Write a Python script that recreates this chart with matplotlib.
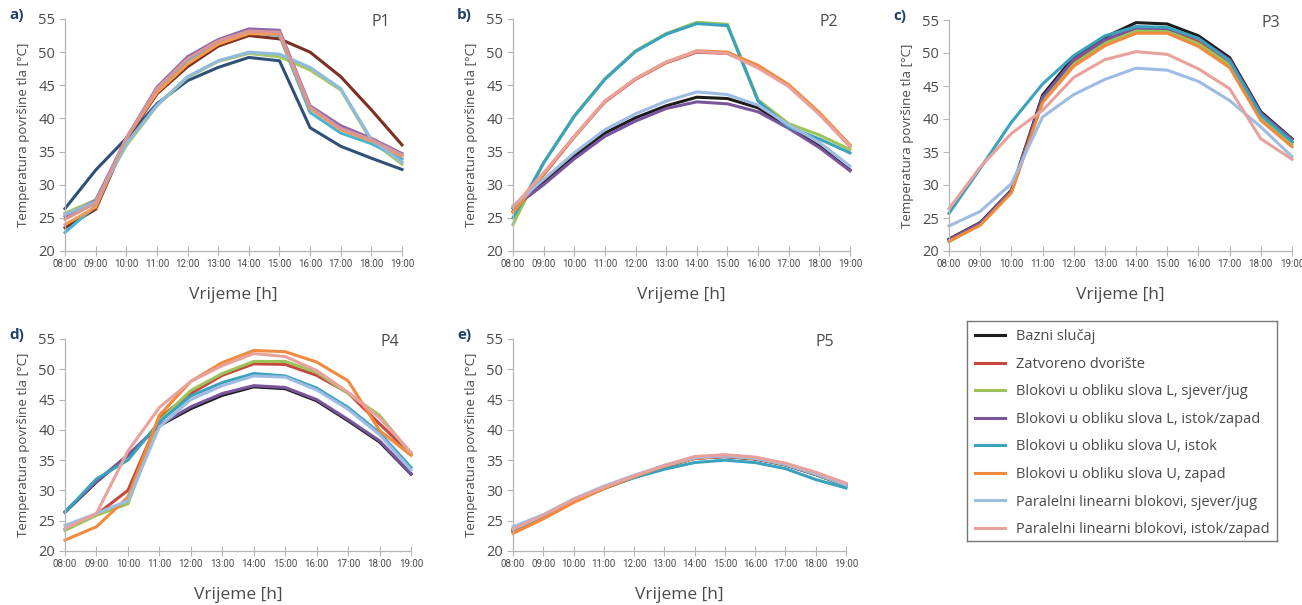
import matplotlib
matplotlib.use('Agg')
import matplotlib.pyplot as plt

plt.rcParams['font.family'] = ['Open Sans', 'DejaVu Sans']

# Vremena mjerenja
hours = ['08:00', '09:00', '10:00', '11:00', '12:00', '13:00',
         '14:00', '15:00', '16:00', '17:00', '18:00', '19:00']

series_names = ['Bazni slučaj', 'Zatvoreno dvorište',
                'Blokovi u obliku slova L, sjever/jug',
                'Blokovi u obliku slova L, istok/zapad',
                'Blokovi u obliku slova U, istok',
                'Blokovi u obliku slova U, zapad',
                'Paralelni linearni blokovi, sjever/jug',
                'Paralelni linearni blokovi, istok/zapad']

colors = ['#1c1c1c', '#c8473d', '#9cc35a', '#7a559c',
          '#3aa2bd', '#f08a3c', '#9dbbe3', '#e9a19c']
# P1 u originalu ima drugu paletu
colors_p1 = ['#2e5079', '#7d2f22', '#a6c965', '#8e6aad',
             '#46b4d3', '#f59a4e', '#8fb9dd', '#d99594']

# P1
p1 = [
    [26.4, 32.2, 37.0, 42.2, 45.7, 47.7, 49.2, 48.7, 38.6, 35.8, 34.0, 32.3],
    [23.5, 26.3, 36.8, 43.7, 47.8, 50.9, 52.5, 52.0, 50.0, 46.3, 41.3, 36.0],
    [25.7, 27.7, 35.9, 41.9, 46.2, 48.6, 49.8, 49.3, 47.3, 44.3, 36.6, 33.1],
    [25.2, 27.6, 37.0, 44.7, 49.3, 51.9, 53.5, 53.3, 41.9, 38.9, 37.0, 34.7],
    [22.8, 26.8, 37.0, 44.3, 48.8, 51.5, 53.0, 52.5, 40.9, 37.8, 36.2, 33.9],
    [24.0, 26.6, 37.0, 43.9, 48.2, 51.2, 52.8, 52.7, 41.5, 38.3, 36.6, 34.3],
    [25.5, 27.4, 36.2, 42.0, 46.3, 48.7, 50.0, 49.7, 47.7, 44.5, 36.8, 33.4],
    [24.8, 27.2, 37.0, 44.5, 49.0, 51.7, 53.2, 53.0, 41.7, 38.5, 36.8, 34.5],
]

# P2
p2 = [
    [26.5, 30.5, 34.3, 37.8, 40.1, 41.9, 43.2, 43.0, 41.6, 38.7, 35.8, 32.2],
    [26.0, 31.5, 37.2, 42.5, 45.9, 48.4, 50.0, 49.8, 47.9, 44.9, 40.7, 35.8],
    [24.0, 33.3, 40.4, 46.0, 50.2, 52.8, 54.5, 54.2, 42.8, 39.2, 37.5, 35.3],
    [26.5, 30.0, 33.9, 37.3, 39.6, 41.5, 42.5, 42.2, 41.0, 38.5, 35.6, 32.1],
    [25.0, 33.3, 40.3, 45.9, 50.1, 52.7, 54.3, 54.0, 42.6, 38.7, 36.9, 34.8],
    [25.8, 31.6, 37.3, 42.6, 46.0, 48.5, 50.2, 50.0, 48.0, 45.1, 40.9, 36.0],
    [26.8, 30.8, 34.8, 38.3, 40.7, 42.6, 44.0, 43.6, 42.0, 39.0, 36.4, 32.8],
    [26.6, 31.8, 37.3, 42.6, 46.0, 48.5, 50.1, 49.8, 47.6, 44.8, 40.6, 35.8],
]

# P3
p3 = [
    [21.8, 24.3, 29.2, 43.6, 49.4, 52.4, 54.6, 54.4, 52.6, 49.3, 41.1, 37.0],
    [21.6, 24.1, 29.0, 43.0, 48.6, 51.7, 53.6, 53.5, 51.7, 48.5, 40.5, 36.5],
    [21.4, 24.0, 29.0, 42.8, 48.3, 51.5, 53.4, 53.3, 51.4, 48.2, 40.2, 36.2],
    [21.7, 24.2, 29.1, 43.3, 49.0, 52.0, 53.8, 53.7, 52.2, 49.0, 40.9, 36.9],
    [25.7, 32.5, 39.5, 45.3, 49.6, 52.6, 54.0, 53.9, 52.2, 48.8, 40.6, 36.6],
    [21.5, 23.9, 28.8, 42.5, 48.0, 51.1, 53.0, 53.0, 51.0, 47.8, 39.8, 35.8],
    [23.8, 26.0, 30.2, 40.3, 43.7, 46.0, 47.7, 47.4, 45.7, 42.8, 38.8, 34.3],
    [26.4, 32.7, 37.8, 41.3, 46.3, 49.0, 50.2, 49.8, 47.6, 44.6, 37.0, 33.9],
]

# P4
p4 = [
    [26.4, 31.4, 35.8, 40.7, 43.5, 45.7, 47.1, 46.8, 44.8, 41.5, 38.0, 32.7],
    [23.6, 26.0, 30.0, 42.0, 46.0, 49.0, 50.9, 50.8, 49.0, 46.1, 41.0, 36.0],
    [23.4, 25.9, 27.8, 41.5, 46.5, 49.3, 51.3, 51.3, 49.5, 46.0, 42.4, 36.0],
    [26.5, 31.5, 35.8, 40.8, 43.8, 46.0, 47.3, 47.0, 45.0, 41.7, 38.2, 32.8],
    [26.4, 31.9, 35.0, 41.3, 45.6, 47.8, 49.3, 48.9, 46.9, 43.7, 39.5, 33.8],
    [21.8, 24.0, 28.9, 42.4, 48.0, 51.1, 53.1, 52.9, 51.2, 48.1, 39.9, 35.8],
    [24.2, 26.2, 28.3, 40.5, 45.0, 47.3, 48.9, 48.7, 46.6, 43.4, 39.2, 33.4],
    [23.7, 26.2, 36.5, 43.7, 48.0, 50.6, 52.6, 52.1, 49.8, 46.2, 42.0, 36.3],
]

# P5
p5 = [
    [23.3, 25.6, 28.2, 30.3, 32.2, 33.9, 35.3, 35.6, 35.2, 34.2, 32.6, 30.8],
    [23.2, 25.6, 28.3, 30.4, 32.3, 34.0, 35.3, 35.6, 35.2, 34.3, 32.7, 30.9],
    [23.4, 25.7, 28.3, 30.4, 32.3, 34.0, 35.4, 35.7, 35.3, 34.3, 32.7, 30.9],
    [23.5, 25.8, 28.4, 30.5, 32.4, 34.1, 35.5, 35.8, 35.4, 34.4, 32.8, 31.0],
    [23.6, 25.7, 28.4, 30.4, 32.1, 33.5, 34.6, 35.0, 34.6, 33.6, 31.8, 30.4],
    [22.9, 25.3, 28.0, 30.3, 32.3, 34.0, 35.3, 35.7, 35.3, 34.3, 32.8, 31.0],
    [24.0, 26.0, 28.6, 30.7, 32.5, 34.1, 35.4, 35.7, 35.3, 34.3, 32.7, 30.9],
    [23.6, 25.9, 28.5, 30.5, 32.4, 34.1, 35.6, 35.9, 35.5, 34.5, 33.0, 31.2],
]

panels = [('a)', 'P1', p1, colors_p1, (65, 402, 19, 251)),
          ('b)', 'P2', p2, colors, (513, 850, 19, 251)),
          ('c)', 'P3', p3, colors, (949, 1292, 20, 251)),
          ('d)', 'P4', p4, colors, (65, 411, 339, 551)),
          ('e)', 'P5', p5, colors, (513, 846, 339, 551))]

W, H = 1302, 605
fig = plt.figure(figsize=(W / 100, H / 100), dpi=100)

gray = '#b5b5b5'
txt = '#4a4a4a'
x = list(range(len(hours)))

for letter, name, data, cols, (l, r, t, b) in panels:
    ax = fig.add_axes([l / W, 1 - b / H, (r - l) / W, (b - t) / H])
    for vals, c in zip(data, cols):
        ax.plot(x, vals, color=c, lw=2.2, solid_joinstyle='miter', clip_on=False)
    ax.set_xlim(0, 11)
    ax.set_ylim(20, 55)
    ax.set_yticks(range(20, 56, 5))
    ax.set_xticks(x)
    ax.set_xticklabels(hours, fontsize=7.1, color=txt, family=['Roboto', 'DejaVu Sans'])
    ax.tick_params(axis='x', direction='inout', length=7, width=0.8, color=gray, pad=2)
    ax.tick_params(axis='y', direction='out', length=4, width=0.8, color=gray,
                   labelsize=10.5, labelcolor=txt, pad=3)
    for s in ['top', 'right']:
        ax.spines[s].set_visible(False)
    for s in ['left', 'bottom']:
        ax.spines[s].set_color(gray)
        ax.spines[s].set_linewidth(0.9)
    ax.set_ylabel('Temperatura površine tla [°C]', fontsize=9.5, color=txt, labelpad=6)
    ax.set_xlabel('Vrijeme [h]', fontsize=12.5, color=txt, labelpad=13)
    fig.text((l - 56) / W, 1 - (t - 4) / H, letter, fontsize=11, color='#1f3f6e',
             fontweight='bold', ha='left', va='center')
    ax.text(0.965, 0.985, name, transform=ax.transAxes, fontsize=11.5, color=txt,
            ha='right', va='center')

# legenda
lax = fig.add_axes([967 / W, 1 - 541 / H, 310 / W, 220 / H])
lax.set_xticks([])
lax.set_yticks([])
for s in lax.spines.values():
    s.set_color('#777777')
    s.set_linewidth(1.0)
handles = [plt.Line2D([], [], color=c, lw=2.2) for c in colors]
leg = lax.legend(handles, series_names, loc='center', bbox_to_anchor=(0.5, 0.49),
                 frameon=False, fontsize=10.5, handlelength=2.1,
                 labelspacing=0.86, handletextpad=0.7)
for t in leg.get_texts():
    t.set_color(txt)

fig.savefig('out.png', dpi=100)
